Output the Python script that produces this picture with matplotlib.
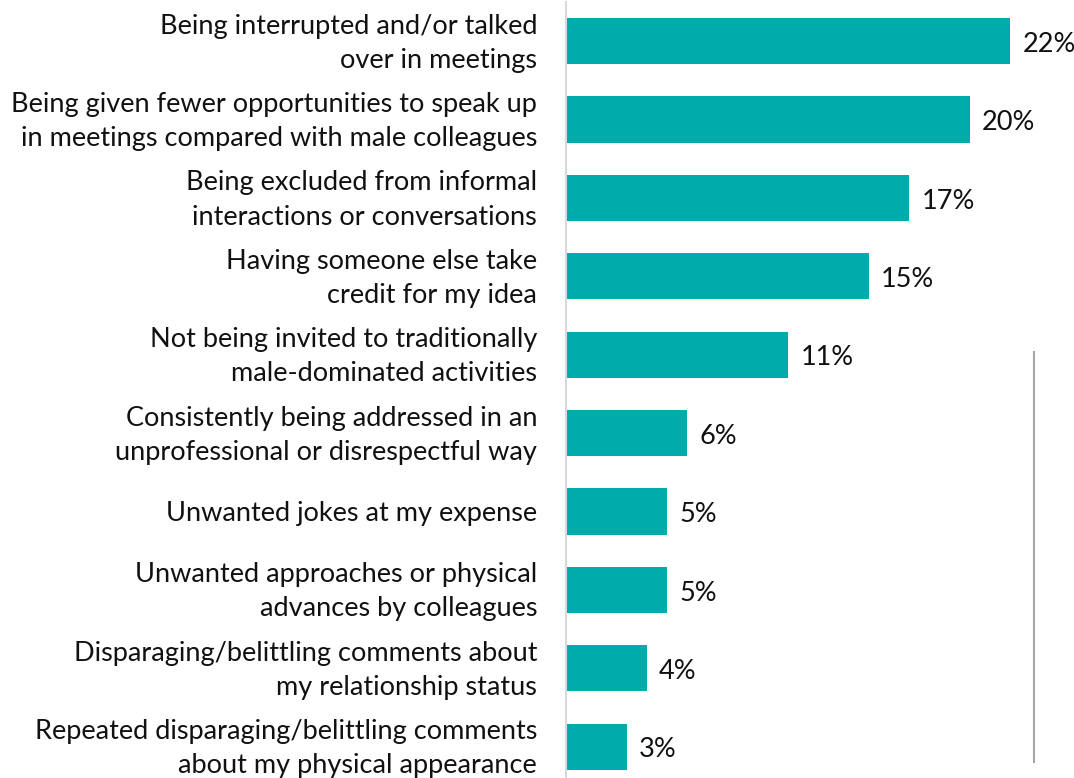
import matplotlib.pyplot as plt
import matplotlib.transforms as mtransforms
from matplotlib.lines import Line2D

labels = [
    "Being interrupted and/or talked\nover in meetings",
    "Being given fewer opportunities to speak up\nin meetings compared with male colleagues",
    "Being excluded from informal\ninteractions or conversations",
    "Having someone else take\ncredit for my idea",
    "Not being invited to traditionally\nmale-dominated activities",
    "Consistently being addressed in an\nunprofessional or disrespectful way",
    "Unwanted jokes at my expense",
    "Unwanted approaches or physical\nadvances by colleagues",
    "Disparaging/belittling comments about\nmy relationship status",
    "Repeated disparaging/belittling comments\nabout my physical appearance",
]
values = [22, 20, 17, 15, 11, 6, 5, 5, 4, 3]

plt.rcParams['font.family'] = ['Lato', 'DejaVu Sans']

fig = plt.figure(figsize=(10.74, 7.78), dpi=100)
ax = fig.add_axes([566 / 1074, 0, (1074 - 566) / 1074, 776 / 778])

pos = list(range(len(values)))
ax.barh(pos, values, height=0.59, color='#00ABAB')
ax.set_xlim(0, 25.15)
ax.set_ylim(9.40, -0.5)

for p, v in zip(pos, values):
    ax.text(v + 0.6, p + 0.04, f"{v}%", va='center', ha='left', fontsize=19.5, color='#111111')

# category labels, right-aligned left of the axis
trans = mtransforms.blended_transform_factory(ax.transAxes, ax.transData)
trans = trans + mtransforms.ScaledTranslation(-29 / 100, -2 / 100, fig.dpi_scale_trans)
for p, lab in zip(pos, labels):
    ax.text(0, p, lab, transform=trans, ha='right', va='center', fontsize=19.5,
            color='#111111', linespacing=1.46, multialignment='right')

ax.set_yticks([])
ax.set_xticks([])
for s in ['top', 'right', 'bottom']:
    ax.spines[s].set_visible(False)
ax.spines['left'].set_color('#D9D9D9')
ax.spines['left'].set_linewidth(1.5)

# stray vertical rule on the right
fig.add_artist(Line2D([1034 / 1074, 1034 / 1074], [1 - 352 / 778, 1 - 762 / 778],
                      color='#A6A6A6', linewidth=1.5))

fig.savefig('out.png', dpi=100)
